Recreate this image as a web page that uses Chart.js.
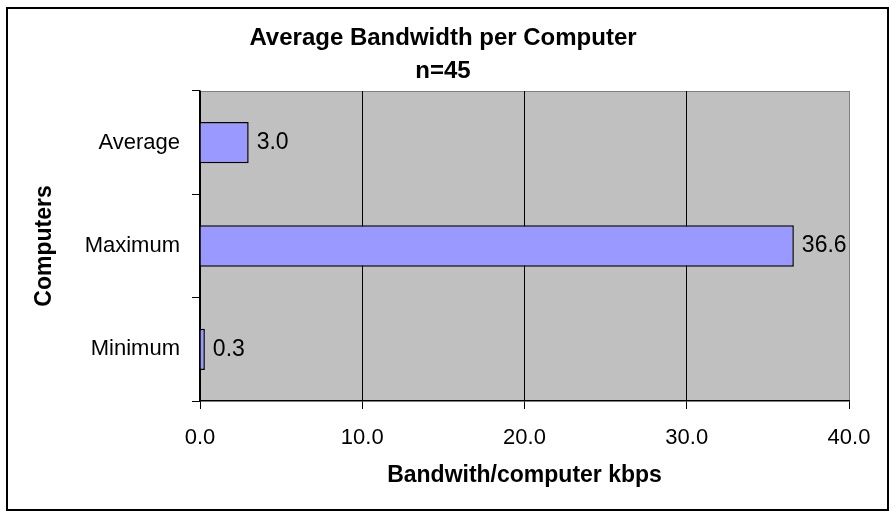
<!DOCTYPE html>
<html lang="en">
<head>
    <meta charset="UTF-8">
    <title>Average Bandwidth per Computer</title>
    <script src="https://cdn.jsdelivr.net/npm/chart.js"></script>
    <style>
        body {
            margin: 0;
            background-color: white;
        }
        #chartContainer {
            width: 896px;
            height: 519px;
        }
    </style>
</head>
<body>
    <div id="chartContainer">
        <canvas id="bandwidthChart" width="896" height="519"></canvas>
    </div>

    <script>
        // data
        const categories = ['Average', 'Maximum', 'Minimum'];
        const bandwidthValues = [3.0, 36.6, 0.3];
        const titleLines = ['Average Bandwidth per Computer', 'n=45'];
        const xTitle = 'Bandwith/computer kbps';
        const yTitle = 'Computers';

        const fontFamily = '"Liberation Sans", Arial, sans-serif';

        // gray plot area, outer frame and the two-line title
        const framePlugin = {
            id: 'frame',
            beforeDraw(chart) {
                const ctx = chart.ctx;
                const a = chart.chartArea;
                ctx.save();
                ctx.fillStyle = 'white';
                ctx.fillRect(0, 0, chart.width, chart.height);
                ctx.fillStyle = '#c0c0c0';
                ctx.fillRect(a.left, a.top, a.right - a.left, a.bottom - a.top);
                ctx.strokeStyle = '#808080';
                ctx.lineWidth = 1;
                ctx.beginPath();
                ctx.moveTo(a.left, a.top + 0.5);
                ctx.lineTo(a.right + 0.5, a.top + 0.5);
                ctx.stroke();
                ctx.strokeStyle = 'black';
                ctx.lineWidth = 2;
                ctx.strokeRect(7, 8, 881, 502);
                ctx.fillStyle = 'black';
                ctx.font = 'bold 24px ' + fontFamily;
                ctx.textAlign = 'center';
                ctx.textBaseline = 'middle';
                ctx.fillText(titleLines[0], 443, 38);
                ctx.fillText(titleLines[1], 443, 71);
                ctx.restore();
            },
            afterDatasetsDraw(chart) {
                const ctx = chart.ctx;
                const meta = chart.getDatasetMeta(0);
                ctx.save();
                ctx.fillStyle = 'black';
                ctx.font = '23px ' + fontFamily;
                ctx.textAlign = 'left';
                ctx.textBaseline = 'middle';
                meta.data.forEach((bar, i) => {
                    ctx.fillText(bandwidthValues[i].toFixed(1), bar.x + 8, bar.y);
                });
                ctx.restore();
            }
        };

        const ctx = document.getElementById('bandwidthChart').getContext('2d');
        new Chart(ctx, {
            type: 'bar',
            data: {
                labels: categories,
                datasets: [{
                    data: bandwidthValues,
                    backgroundColor: '#9999ff',
                    borderColor: 'black',
                    borderWidth: 1.5,
                    barPercentage: 0.4,
                    categoryPercentage: 1.0
                }]
            },
            options: {
                indexAxis: 'y',
                responsive: false,
                animation: false,
                layout: {
                    padding: { left: 10, right: 47, top: 91, bottom: 0 }
                },
                plugins: {
                    legend: { display: false },
                    tooltip: { enabled: false },
                    title: { display: false }
                },
                scales: {
                    x: {
                        min: 0,
                        max: 40,
                        afterFit(scale) {
                            scale.height = 118;
                        },
                        ticks: {
                            stepSize: 10,
                            padding: 16,
                            color: 'black',
                            font: { family: fontFamily, size: 22 },
                            callback: value => value.toFixed(1)
                        },
                        grid: {
                            color: c => (c.tick && c.tick.value === 40) ? '#808080' : 'black',
                            tickColor: 'black',
                            tickLength: 8,
                            lineWidth: 1
                        },
                        border: { color: 'black', width: 1.5 },
                        title: {
                            display: true,
                            text: xTitle,
                            color: 'black',
                            font: { family: fontFamily, size: 23, weight: 'bold' },
                            padding: { top: 0, bottom: 30 }
                        }
                    },
                    y: {
                        afterFit(scale) {
                            scale.width = 190;
                        },
                        ticks: {
                            padding: 12,
                            color: 'black',
                            font: { family: fontFamily, size: 22 }
                        },
                        grid: {
                            drawOnChartArea: false,
                            color: 'black',
                            tickLength: 8
                        },
                        border: { color: 'black', width: 1.5 },
                        title: {
                            display: true,
                            text: yTitle,
                            color: 'black',
                            font: { family: fontFamily, size: 23, weight: 'bold' },
                            padding: { top: 21, bottom: 0 }
                        }
                    }
                }
            },
            plugins: [framePlugin]
        });
    </script>
</body>
</html>
